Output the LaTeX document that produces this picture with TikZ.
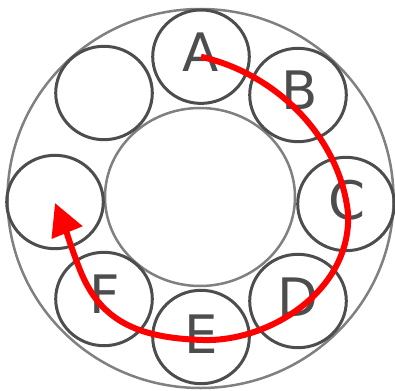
\documentclass[tikz,border=0pt]{standalone}
\usepackage{fontspec}
\setmainfont{DejaVu Sans}
\usetikzlibrary{shapes.geometric,arrows.meta}
\definecolor{ringgray}{HTML}{808080}
\definecolor{balldark}{HTML}{4D4D4D}
\begin{document}
\begin{tikzpicture}[x=1pt,y=-1pt,
  ring/.style={draw=ringgray, line width=2.5pt, ellipse, inner sep=0pt, outer sep=0pt},
  ball/.style={draw=balldark, line width=3pt, ellipse, minimum width=96.6pt, minimum height=93.4pt, inner sep=0pt},
  lbl/.style={text=balldark, font=\fontsize{53}{53}\selectfont, inner sep=0pt},
  spin/.style={red, line width=6pt, -{Triangle[length=32pt,width=32pt]}}]
  \useasboundingbox (0,0) rectangle (395,390);
  \node[ring, minimum width=386pt, minimum height=379pt] (outer) at (200.5,198.5) {};
  \node[ring, minimum width=190pt, minimum height=178pt] (inner) at (200,197) {};
  \node[ball] (cA) at (201,56.7) {};
  \node[ball] (cB) at (298,95) {};
  \node[ball] (cC) at (346,204) {};
  \node[ball] (cD) at (298,301) {};
  \node[ball] (cE) at (201,337) {};
  \node[ball] (cF) at (104,299) {};
  \node[ball] (cG) at (55,202) {};
  \node[ball] (cH) at (104,93) {};
  \node[lbl] (lA) at (201,52) {A};
  \node[lbl] (lB) at (299.5,90) {B};
  \node[lbl] (lC) at (347,200) {C};
  \node[lbl] (lD) at (298,297.5) {D};
  \node[lbl] (lE) at (201.5,334) {E};
  \node[lbl] (lF) at (105,294) {F};
  \coordinate (p1) at (348,213);
  \coordinate (p2) at (203,340);
  \coordinate (p3) at (80,270);
  \coordinate (tip) at (55,203);
  \draw[spin] (cA.center) .. controls (280,75) and (340,140) .. (p1)
     .. controls (352,290) and (270,342) .. (p2)
     .. controls (136,338) and (100,320) .. (p3)
     .. controls (72,250) and (64,225) .. (tip);
\end{tikzpicture}
\end{document}
